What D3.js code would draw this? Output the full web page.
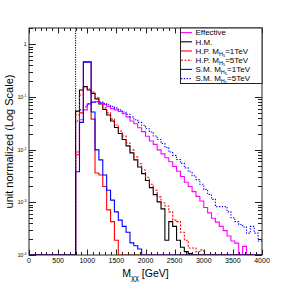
<!DOCTYPE html>
<html><head><meta charset="utf-8">
<script src="https://cdn.jsdelivr.net/npm/d3@7"></script>
<style>
html,body{margin:0;padding:0;background:#fff;}
svg{display:block;font-family:"Liberation Sans",Arial,Helvetica,sans-serif;}
</style></head>
<body><svg id="c" width="291" height="283"></svg>
<script>
// ---- data ----
const binWidth = 4000 / 60;
const binStart = 800;             // first filled bin (threshold)
const xTickLabels = ["0","500","1000","1500","2000","2500","3000","3500","4000"];
const yTickLabels = [["1",""],["10","-1"],["10","-2"],["10","-3"],["10","-4"]];
const yTickValues = [1,1e-1,1e-2,1e-3,1e-4];
const thresholdMass = 800;

const seriesNames = ["Effective","H.M.","H.P. 1TeV","H.P. 5TeV","S.M. 1TeV","S.M. 5TeV"];

// values per bin, from 800 GeV upward (bin width 66.7 GeV)
const effective = [0.009,0.037,0.057,0.074,0.080,0.081,0.077,0.072,0.066,0.060,
 0.057,0.053,0.048,0.042,0.035,0.031,0.026,0.022,0.018,0.0146,
 0.0126,0.0099,0.0083,0.0070,0.0059,0.0048,0.0039,0.0031,0.0024,0.0020,
 0.0016,0.0013,0.00106,0.0008,0.00063,0.0005,0.00042,0.00035,0.00029,0.00023,
 0.000185,0.000168,0,0.000146,0,0,0,0];
const hm = [0.054,0.136,0.157,0.136,0.117,0.092,0.074,0.058,0.0455,0.035,
 0.0264,0.0203,0.0156,0.0118,0.0087,0.0064,0.0047,0.0035,0.0026,0.0019,
 0.0014,0.00102,0.00075,0.00019,0.00043,0.00035,0.00019,0.00014,0.000116,0.000107,
 0,0,0,0,0,0,0,0,0,0,0,0,0,0,0,0,0,0];
const hp1 = [0.008,0.05,0.47,0.47,0.038,0.0036,0.0033,0.002,0.00072,0.00043,
 0.00019,0,0,0,0,0,0,0,0,0,
 0,0,0,0,0,0,0,0,0,0,0,0,0,0,0,0,0,0,0,0,0,0,0,0,0,0,0,0];
const hp5 = [0.0455,0.109,0.148,0.142,0.124,0.096,0.077,0.062,0.050,0.038,
 0.0294,0.0226,0.0182,0.0134,0.0099,0.0073,0.0054,0.0041,0.0030,0.0022,
 0.0017,0.00127,0.00097,0.00085,0.00066,0.00046,0.00043,0.00027,0.00019,0.000136,
 0.000136,0.000115,0.000125,0,0,0,0,0,0,0,0,0,0,0,0,0,0,0];
const sm1 = [0.0038,0.033,0.455,0.455,0.052,0.0099,0.0064,0.0033,0.0017,0.0011,
 0.00066,0.00046,0.00035,0.00027,0.00017,0.00015,0.00013,0,0,0,
 0,0,0,0,0,0,0,0,0,0,0,0,0,0,0,0,0,0,0,0,0,0,0,0,0,0,0,0];
const sm5 = [0.035,0.057,0.065,0.074,0.079,0.081,0.080,0.075,0.071,0.066,
 0.062,0.057,0.052,0.047,0.042,0.037,0.033,0.029,0.025,0.0217,
 0.0182,0.0156,0.0131,0.011,0.009,0.0078,0.0065,0.0055,0.0045,0.0038,
 0.0032,0.0027,0.0022,0.00176,0.00141,0.00114,0.00083,0.00083,0.00083,0.00066,
 0.00051,0.00043,0.00038,0.00034,0.00026,0.00035,0.00026,0.000185];

// ---- layout ----
const L = 29, R = 262, T = 28, B = 255;
const svg = d3.select("#c");
const x = d3.scaleLinear().domain([0,4000]).range([L,R]);
const y = d3.scaleLog().domain([1e-4,2.04]).range([B,T]);

const defs = svg.append("defs");
defs.append("clipPath").attr("id","clip").append("rect")
  .attr("x",L).attr("y",T-1).attr("width",R-L).attr("height",B-T+1);

function pts(vals){
  const p = [];
  const nEmpty = Math.round(binStart/binWidth);
  for (let i=0;i<nEmpty;i++) p.push([i*binWidth,0]);
  vals.forEach((v,i)=>p.push([binStart+i*binWidth,v]));
  p.push([4000, vals[vals.length-1]]);
  return p;
}
const line = d3.line()
  .x(d=>x(d[0]))
  .y(d=>d[1]>0 ? y(d[1]) : B)
  .curve(d3.curveStepAfter);

const styles = [
  {data:effective, color:"#ff00ff", dash:null},
  {data:hm, color:"#000000", dash:null},
  {data:hp1, color:"#ff0000", dash:null},
  {data:hp5, color:"#ff0000", dash:"2,1.5"},
  {data:sm1, color:"#0000ff", dash:null},
  {data:sm5, color:"#0000ff", dash:"1.3,1.5"}
];
const g = svg.append("g").attr("clip-path","url(#clip)");
// draw order
[1,3,0,5,2,4].forEach(i=>{
  const s = styles[i];
  g.append("path").attr("d", line(pts(s.data)))
    .attr("fill","none").attr("stroke",s.color).attr("stroke-width",1.1)
    .attr("stroke-dasharray",s.dash);
});

// threshold dotted line
svg.append("line").attr("x1",x(thresholdMass)).attr("x2",x(thresholdMass))
  .attr("y1",T).attr("y2",B).attr("stroke","#000").attr("stroke-width",1)
  .attr("stroke-dasharray","1.2,1.2");

// ---- frame & ticks ----
const ax = svg.append("g").attr("stroke","#222").attr("stroke-width",1);
ax.append("rect").attr("x",L).attr("y",T).attr("width",R-L).attr("height",B-T).attr("fill","none");
// x ticks
d3.range(0,4001,100).forEach(v=>{
  const major = v%500===0;
  const len = major?5.5:3;
  const xx = Math.round(x(v))+0.5;
  ax.append("line").attr("x1",xx).attr("x2",xx).attr("y1",B).attr("y2",B-len);
  ax.append("line").attr("x1",xx).attr("x2",xx).attr("y1",T).attr("y2",T+len);
});
// y ticks
const yt = [];
for (let k=-4;k<=0;k++) for (let m=1;m<=9;m++){ const v=m*Math.pow(10,k); if (v<=2.04) yt.push([v,m===1]); }
yt.push([2,false]);
yt.forEach(([v,major])=>{
  const len = major?7:4;
  const yy = Math.round(y(v))+0.5;
  ax.append("line").attr("x1",L).attr("x2",L+len).attr("y1",yy).attr("y2",yy);
  ax.append("line").attr("x1",R).attr("x2",R-len).attr("y1",yy).attr("y2",yy);
});

// x tick labels
xTickLabels.forEach((t,i)=>{
  svg.append("text").attr("x",x(+t)).attr("y",263).attr("text-anchor","middle")
    .attr("font-size",7).attr("fill","#000").text(t);
});
// y tick labels
yTickLabels.forEach((t,i)=>{
  const tx = svg.append("text").attr("x",26.5).attr("y",y(yTickValues[i])+2)
    .attr("text-anchor","end").attr("font-size",5).attr("fill","#000");
  tx.append("tspan").text(t[0]);
  if (t[1]) tx.append("tspan").attr("font-size",3.5).attr("dy",-2).text(t[1]);
});

// axis titles
const xt = svg.append("text").attr("x",(L+R)/2).attr("y",277).attr("text-anchor","middle")
  .attr("font-size",10.5).attr("fill","#000");
xt.append("tspan").text("M");
xt.append("tspan").attr("font-size",7.5).attr("dy",2.5).text("χχ");
xt.append("tspan").attr("dy",-2.5).text(" [GeV]");

svg.append("text").attr("transform",`translate(13,${(T+B)/2}) rotate(-90)`)
  .attr("text-anchor","middle").attr("font-size",11).attr("fill","#000")
  .text("unit normalized (Log Scale)");

// ---- legend ----
const lg = svg.append("g");
lg.append("rect").attr("x",180.5).attr("y",T).attr("width",R-180.5).attr("height",55.5)
  .attr("fill","#fff").attr("stroke","#222").attr("stroke-width",1);
const legendLabels = [
  [["Effective"]],
  [["H.M."]],
  [["H.P. M"],["H","sub"],["5","subsub"],["=1TeV"]],
  [["H.P. M"],["H","sub"],["5","subsub"],["=5TeV"]],
  [["S.M. M"],["H","sub"],["5","subsub"],["=1TeV"]],
  [["S.M. M"],["H","sub"],["5","subsub"],["=5TeV"]]
];
styles.forEach((s,i)=>{
  const yy = 32.6 + i*9.2;
  lg.append("line").attr("x1",181).attr("x2",192).attr("y1",yy).attr("y2",yy)
    .attr("stroke",s.color).attr("stroke-width",1.1).attr("stroke-dasharray",s.dash);
  const t = lg.append("text").attr("x",195.5).attr("y",yy+2.8).attr("font-size",8).attr("fill","#000");
  let cur = 0;
  legendLabels[i].forEach(part=>{
    const ts = t.append("tspan").text(part[0]);
    let target = part[1]==="sub"?1.8:(part[1]==="subsub"?3:0);
    if (part[1]==="sub") ts.attr("font-size",5.5);
    if (part[1]==="subsub") ts.attr("font-size",4);
    ts.attr("dy", target-cur); cur = target;
  });
});
</script>
</body></html>
